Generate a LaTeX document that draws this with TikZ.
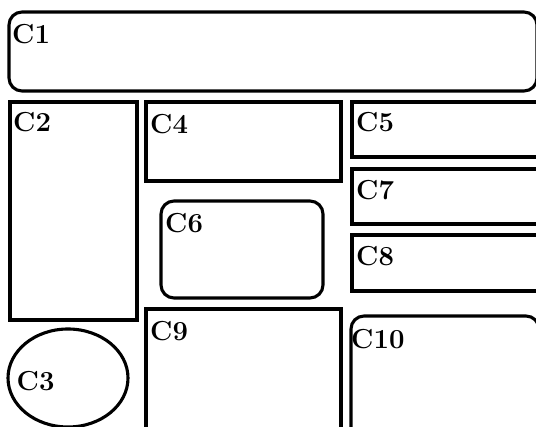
\documentclass[tikz,border=0pt]{standalone}
\usepackage{fontspec}
\usetikzlibrary{shapes.geometric}
\begin{document}
\begin{tikzpicture}[x=1pt,y=-1pt,
  shp/.style={draw=black, line width=3.1pt, inner sep=0pt, outer sep=0pt, anchor=north west},
  rbox/.style={shp, rounded corners=13pt},
  lbl/.style={inner sep=0pt, anchor=base west, font=\fontsize{27.5}{32}\selectfont\bfseries},
]
\useasboundingbox (0,0) rectangle (536,427);
\clip (0,0) rectangle (536,427);
% shapes
\node[rbox, minimum width=528, minimum height=79] (c1) at (9,12) {};
\node[shp, minimum width=127, minimum height=218] (c2) at (10,102) {};
\node[shp, minimum width=195, minimum height=79] (c4) at (146,102) {};
\node[shp, minimum width=210, minimum height=55] (c5) at (352,102) {};
\node[shp, minimum width=210, minimum height=55] (c7) at (352,169) {};
\node[shp, minimum width=210, minimum height=56] (c8) at (352,235) {};
\node[rbox, minimum width=162, minimum height=97] (c6) at (161,201) {};
\node[shp, minimum width=195, minimum height=150] (c9) at (146,309) {};
\node[rbox, minimum width=188, minimum height=150] (c10) at (351,316) {};
\node[draw=black, line width=3.1pt, ellipse, inner sep=0pt, minimum width=120, minimum height=98] (c3) at (68,378) {};
% labels
\node[lbl] (l1) at ([shift={(3,32)}]c1.north west) {C1};
\node[lbl] (l2) at ([shift={(3,30)}]c2.north west) {C2};
\node[lbl] (l4) at ([shift={(4,32)}]c4.north west) {C4};
\node[lbl] (l5) at ([shift={(4,30)}]c5.north west) {C5};
\node[lbl] (l7) at ([shift={(4,31)}]c7.north west) {C7};
\node[lbl] (l8) at ([shift={(4,31)}]c8.north west) {C8};
\node[lbl] (l6) at ([shift={(4,32)}]c6.north west) {C6};
\node[lbl] (l9) at ([shift={(4,32)}]c9.north west) {C9};
\node[lbl] (l10) at ([shift={(0,33)}]c10.north west) {C10};
\node[lbl] (l3) at ([shift={(10,13)}]c3.west) {C3};
\end{tikzpicture}
\end{document}
